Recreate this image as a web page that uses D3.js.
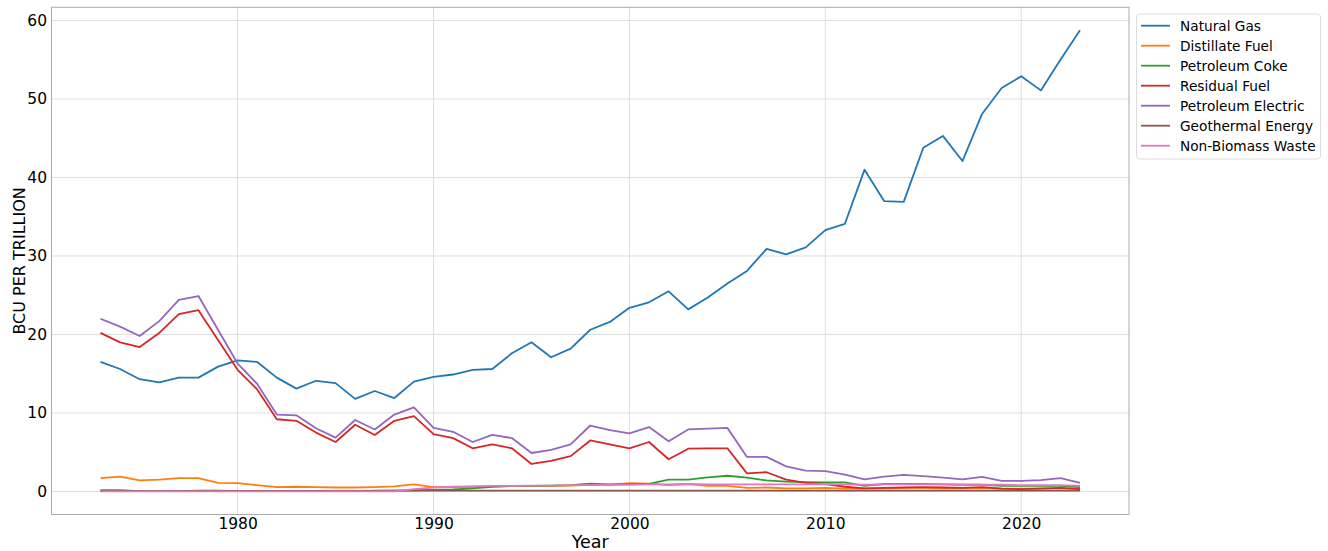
<!DOCTYPE html>
<html>
<head>
<meta charset="utf-8">
<script src="https://cdn.jsdelivr.net/npm/d3@7"></script>
<style>
  html, body { margin: 0; padding: 0; background: #fff; }
  svg { display: block; font-family: "DejaVu Sans", sans-serif; }
</style>
</head>
<body>
<svg id="chart" width="1328" height="551"></svg>
<script>
const years = d3.range(1973, 2024);

const seriesNames = ["Natural Gas", "Distillate Fuel", "Petroleum Coke", "Residual Fuel",
  "Petroleum Electric", "Geothermal Energy", "Non-Biomass Waste"];
const seriesColors = ["#1f77b4", "#ff7f0e", "#2ca02c", "#d62728", "#9467bd", "#8c564b", "#e377c2"];

const naturalGas = [16.5,15.6,14.3,13.9,14.5,14.5,15.9,16.7,16.5,14.5,
  13.1,14.1,13.8,11.8,12.8,11.9,14.0,14.6,14.9,15.5,
  15.6,17.6,19.0,17.1,18.2,20.6,21.6,23.4,24.1,25.5,
  23.2,24.7,26.5,28.1,30.9,30.2,31.1,33.3,34.1,41.0,
  37.0,36.9,43.8,45.3,42.1,48.1,51.4,52.9,51.1,55.0,
  58.75];
const distillateFuel = [1.7,1.9,1.4,1.5,1.7,1.7,1.1,1.05,0.8,0.55,
  0.6,0.55,0.5,0.5,0.55,0.65,0.9,0.55,0.55,0.6,
  0.65,0.7,0.7,0.7,0.75,0.85,0.85,1.05,1.0,0.8,
  0.95,0.7,0.7,0.45,0.5,0.4,0.4,0.45,0.35,0.35,
  0.4,0.45,0.45,0.4,0.4,0.45,0.35,0.35,0.4,0.4,
  0.35];
const petroleumCoke = [0.15,0.15,0.05,0.05,0.05,0.1,0.1,0.05,0.05,0.05,
  0.05,0.05,0.05,0.05,0.1,0.1,0.15,0.2,0.25,0.4,
  0.6,0.7,0.7,0.75,0.8,1.0,0.9,0.95,0.95,1.5,
  1.5,1.8,2.0,1.75,1.4,1.25,1.2,1.15,1.15,0.7,
  0.95,0.95,0.95,0.9,0.85,0.85,0.7,0.7,0.7,0.7,
  0.55];
const residualFuel = [20.2,19.0,18.4,20.2,22.6,23.1,19.3,15.5,13.0,9.2,
  9.0,7.5,6.3,8.5,7.2,9.0,9.6,7.3,6.8,5.5,
  6.0,5.5,3.5,3.9,4.5,6.5,6.0,5.5,6.3,4.1,
  5.45,5.5,5.5,2.3,2.45,1.5,1.1,0.95,0.6,0.4,
  0.45,0.5,0.55,0.5,0.45,0.55,0.35,0.3,0.35,0.45,
  0.3];
const petroleumElectric = [22.0,21.0,19.8,21.7,24.4,24.9,20.6,16.3,13.7,9.8,
  9.7,8.05,6.85,9.1,7.9,9.8,10.7,8.1,7.6,6.3,
  7.2,6.8,4.9,5.3,6.0,8.4,7.8,7.4,8.2,6.4,
  7.9,8.0,8.1,4.4,4.4,3.2,2.65,2.6,2.15,1.55,
  1.9,2.1,1.95,1.75,1.55,1.85,1.35,1.35,1.45,1.7,
  1.1];
const geothermalEnergy = [0.03,0.04,0.05,0.05,0.05,0.05,0.05,0.06,0.06,0.06,
  0.07,0.07,0.07,0.08,0.08,0.09,0.1,0.1,0.1,0.1,
  0.1,0.1,0.1,0.1,0.1,0.1,0.1,0.1,0.1,0.1,
  0.1,0.1,0.1,0.1,0.1,0.1,0.1,0.1,0.1,0.1,
  0.1,0.1,0.1,0.1,0.1,0.1,0.1,0.1,0.1,0.1,
  0.1];
const nonBiomassWaste = [0,0,0,0,0,0,0,0,0,0,
  0,0,0,0,0,0,0.3,0.5,0.6,0.65,
  0.7,0.7,0.75,0.75,0.8,0.8,0.85,0.85,0.9,0.9,
  0.95,0.9,0.9,0.9,0.9,0.9,0.9,0.95,0.9,0.85,
  0.9,0.9,0.9,0.9,0.85,0.85,0.85,0.8,0.8,0.8,
  0.7];

const xTicks = [1980, 1990, 2000, 2010, 2020];
const yTicks = [0, 10, 20, 30, 40, 50, 60];
const xLabel = "Year";
const yLabel = "BCU PER TRILLION";

const allSeries = [naturalGas, distillateFuel, petroleumCoke, residualFuel,
  petroleumElectric, geothermalEnergy, nonBiomassWaste];
const series = seriesNames.map((name, i) => ({
  name, color: seriesColors[i],
  values: years.map((y, j) => ({ year: y, value: allSeries[i][j] }))
}));

// layout
const plot = { left: 51.5, right: 1129, top: 7.3, bottom: 514.5 };
const svg = d3.select("#chart");

// domains with 5% margins (matplotlib style)
const xMin = d3.min(years), xMax = d3.max(years);
const xPad = (xMax - xMin) * 0.05;
const allVals = allSeries.flat();
const yMin = d3.min(allVals), yMax = d3.max(allVals);
const yPad = (yMax - yMin) * 0.05;

const x = d3.scaleLinear().domain([xMin - xPad, xMax + xPad]).range([plot.left, plot.right]);
const y = d3.scaleLinear().domain([yMin - yPad, yMax + yPad]).range([plot.bottom, plot.top]);

// grid
const grid = svg.append("g");
grid.selectAll("line.gx").data(xTicks).join("line")
  .attr("x1", d => x(d)).attr("x2", d => x(d))
  .attr("y1", plot.top).attr("y2", plot.bottom)
  .attr("stroke", "#dedede").attr("stroke-width", 1);
grid.selectAll("line.gy").data(yTicks).join("line")
  .attr("x1", plot.left).attr("x2", plot.right)
  .attr("y1", d => y(d)).attr("y2", d => y(d))
  .attr("stroke", "#dedede").attr("stroke-width", 1);

// axes (labels only, no tick marks)
const xAxis = d3.axisBottom(x).tickValues(xTicks).tickFormat(d3.format("d")).tickSize(0).tickPadding(3.8);
const yAxis = d3.axisLeft(y).tickValues(yTicks).tickFormat(d3.format("d")).tickSize(0).tickPadding(4.5);

const gx = svg.append("g").attr("transform", `translate(0,${plot.bottom})`).call(xAxis);
const gy = svg.append("g").attr("transform", `translate(${plot.left},0)`).call(yAxis);
[gx, gy].forEach(g => {
  g.select(".domain").remove();
  g.selectAll("text").attr("font-size", "15.5px").attr("fill", "#000")
    .attr("font-family", "DejaVu Sans, sans-serif");
});

// lines
const line = d3.line().x(d => x(d.year)).y(d => y(d.value));
svg.append("g").selectAll("path").data(series).join("path")
  .attr("d", d => line(d.values))
  .attr("fill", "none")
  .attr("stroke", d => d.color)
  .attr("stroke-width", 1.8)
  .attr("stroke-linejoin", "round")
  .attr("stroke-linecap", "butt");

// frame
svg.append("rect")
  .attr("x", plot.left).attr("y", plot.top)
  .attr("width", plot.right - plot.left).attr("height", plot.bottom - plot.top)
  .attr("fill", "none").attr("stroke", "#ababab").attr("stroke-width", 1);

// axis titles
svg.append("text")
  .attr("x", (plot.left + plot.right) / 2).attr("y", 547.5)
  .attr("text-anchor", "middle").attr("font-size", "17.5px").attr("fill", "#000")
  .text(xLabel);
svg.append("text")
  .attr("transform", `translate(24.5,${(plot.top + plot.bottom) / 2}) rotate(-90)`)
  .attr("text-anchor", "middle").attr("font-size", "16px").attr("fill", "#000")
  .text(yLabel);

// legend
const lg = svg.append("g").attr("transform", "translate(1136.5,14)");
lg.append("rect").attr("width", 184).attr("height", 145).attr("rx", 3)
  .attr("fill", "#fff").attr("fill-opacity", 0.8)
  .attr("stroke", "#dcdcdc").attr("stroke-width", 1);
const items = lg.selectAll("g.item").data(series).join("g")
  .attr("transform", (d, i) => `translate(0,${11.7 + i * 20})`);
items.append("line").attr("x1", 4.5).attr("x2", 33.5).attr("y1", 0).attr("y2", 0)
  .attr("stroke", d => d.color).attr("stroke-width", 1.8);
items.append("text").attr("x", 43.5).attr("y", 0).attr("dy", "0.36em")
  .attr("font-size", "13.7px").attr("fill", "#000").text(d => d.name);
</script>
</body>
</html>
